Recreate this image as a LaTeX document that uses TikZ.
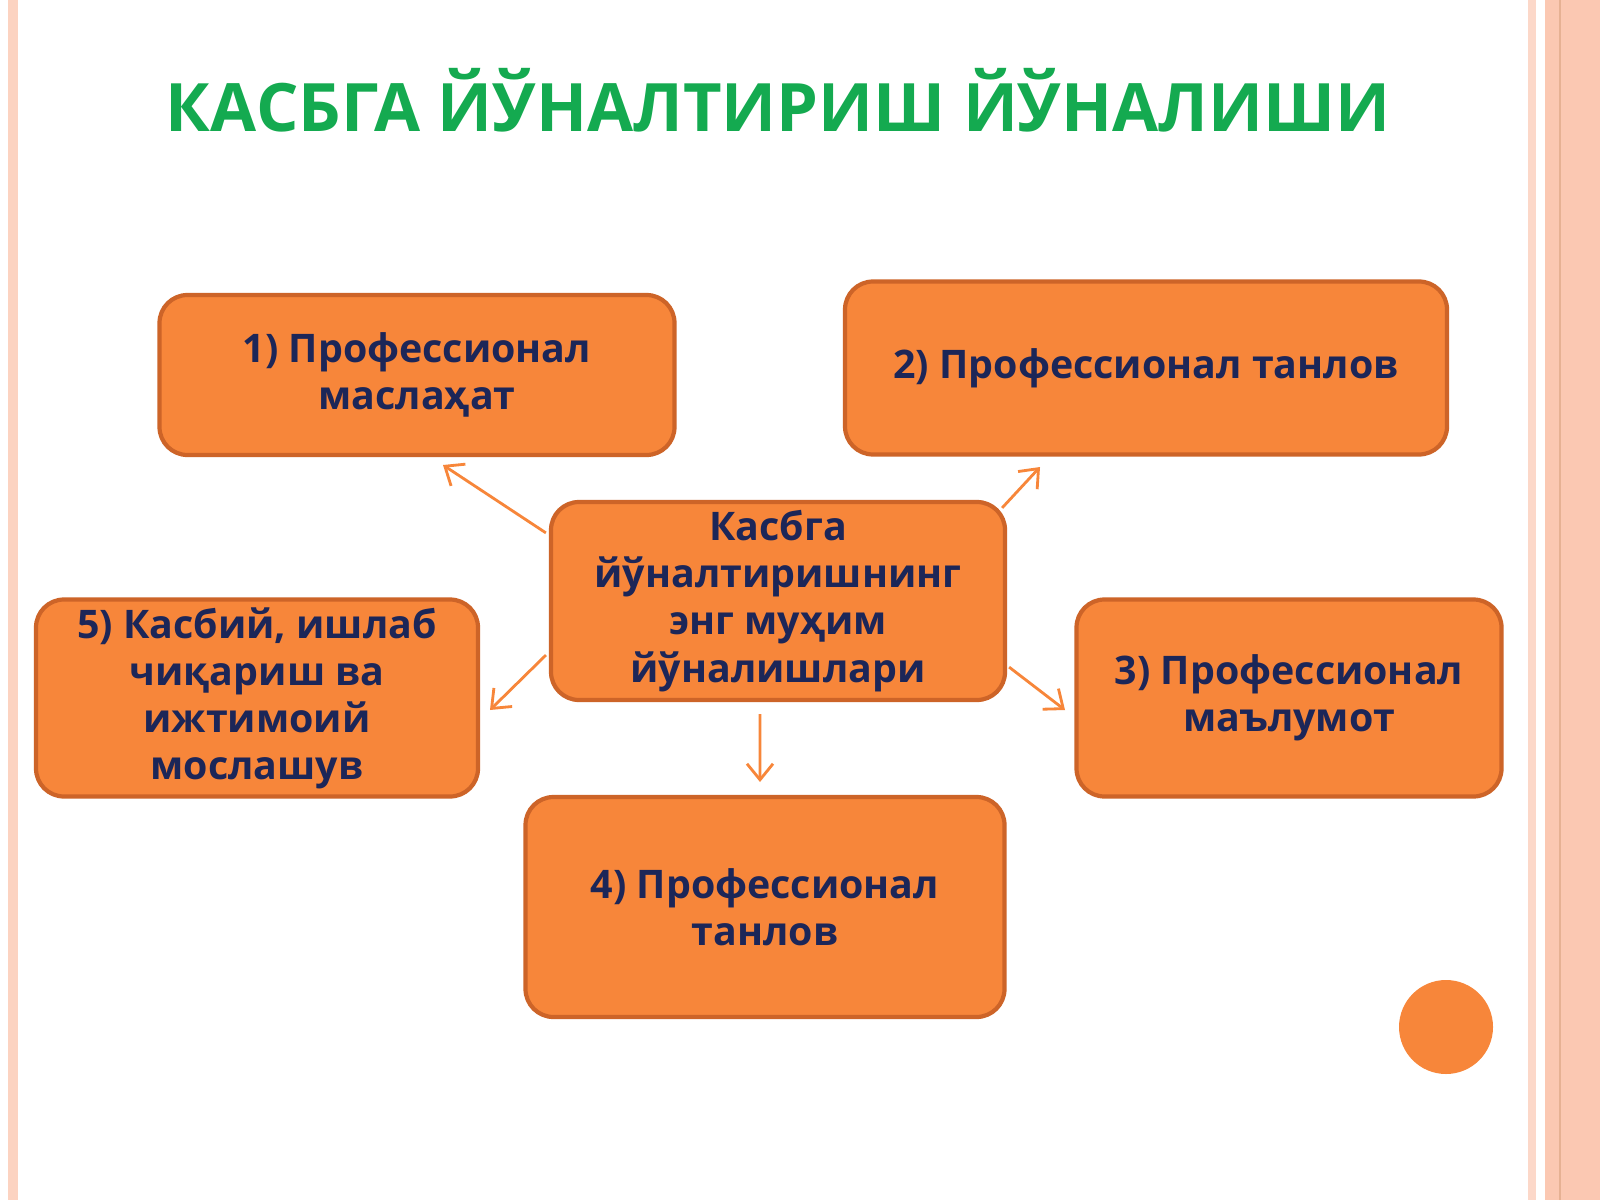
\documentclass[tikz,border=0pt]{standalone}
\usepackage{fontspec}
\setmainfont{Open Sans}
\usetikzlibrary{arrows.meta}

\definecolor{boxfill}{RGB}{247,134,58}
\definecolor{boxedge}{RGB}{205,100,40}
\definecolor{navy}{RGB}{28,38,88}
\definecolor{titlegreen}{RGB}{20,170,80}
\definecolor{peach}{RGB}{251,200,178}

\tikzset{
	item/.style={draw=boxedge, line width=1.2pt, fill=boxfill, rounded corners=0.28cm,
		align=center, text=navy, font=\bfseries\fontsize{11.2}{13.4}\selectfont, inner sep=0pt},
	link/.style={draw=boxfill, line width=0.8pt, -{Straight Barb[length=1.6mm,width=2.6mm]}}
}

\begin{document}
\begin{tikzpicture}
	\useasboundingbox (0, 0) rectangle (16, 12);
	\fill[white] (0, 0) rectangle (16, 12);
	
	% page edges
	\fill[peach!80] (0.08, 0) rectangle (0.18, 12);
	\fill[peach!70] (15.28, 0) rectangle (15.36, 12);
	\fill[peach] (15.45, 0) rectangle (16, 12);
	\draw[boxedge!50, line width=0.8pt] (15.6, 0) -- (15.6, 12);
	
	\node[text=titlegreen, font=\bfseries\fontsize{19}{23}\selectfont] (title) at (7.78, 11.0) {КАСБГА ЙЎНАЛТИРИШ ЙЎНАЛИШИ};
	
	\node[item, minimum width=4.54cm, minimum height=1.98cm] (centre) at (7.78, 5.99) {Касбга\\йўналтиришнинг\\энг муҳим\\йўналишлари};
	\node[item, minimum width=5.15cm, minimum height=1.60cm] (one) at (4.17, 8.25) {1) Профессионал\\маслаҳат};
	\node[item, minimum width=6.02cm, minimum height=1.73cm] (two) at (11.46, 8.32) {2) Профессионал танлов};
	\node[item, minimum width=4.25cm, minimum height=1.97cm] (three) at (12.89, 5.02) {3) Профессионал\\маълумот};
	\node[item, minimum width=4.79cm, minimum height=2.20cm] (four) at (7.65, 2.93) {4) Профессионал\\танлов};
	\node[item, minimum width=4.42cm, minimum height=1.97cm] (five) at (2.57, 5.02) {5) Касбий, ишлаб\\чиқариш ва\\ижтимоий\\мослашув};
	
	\coordinate (toone) at (4.43, 7.35);
	\coordinate (totwo) at (10.40, 7.33);
	\coordinate (tothree) at (10.65, 4.90);
	\coordinate (tofour) at (7.60, 4.18);
	\coordinate (tofive) at (4.90, 4.90);
	
	\draw[link] (centre.north west) ++(-0.03, -0.33) -- (toone);
	\draw[link] (centre.north east) ++(-0.05, -0.08) -- (totwo);
	\draw[link] (centre.south east) ++(0.02, 0.35) -- (tothree);
	\draw[link] (centre.south) ++(-0.18, -0.12) -- (tofour);
	\draw[link] (centre.south west) ++(-0.03, 0.47) -- (tofive);
	
	\fill[boxfill] (14.46, 1.73) circle (0.47);
\end{tikzpicture}
\end{document}
